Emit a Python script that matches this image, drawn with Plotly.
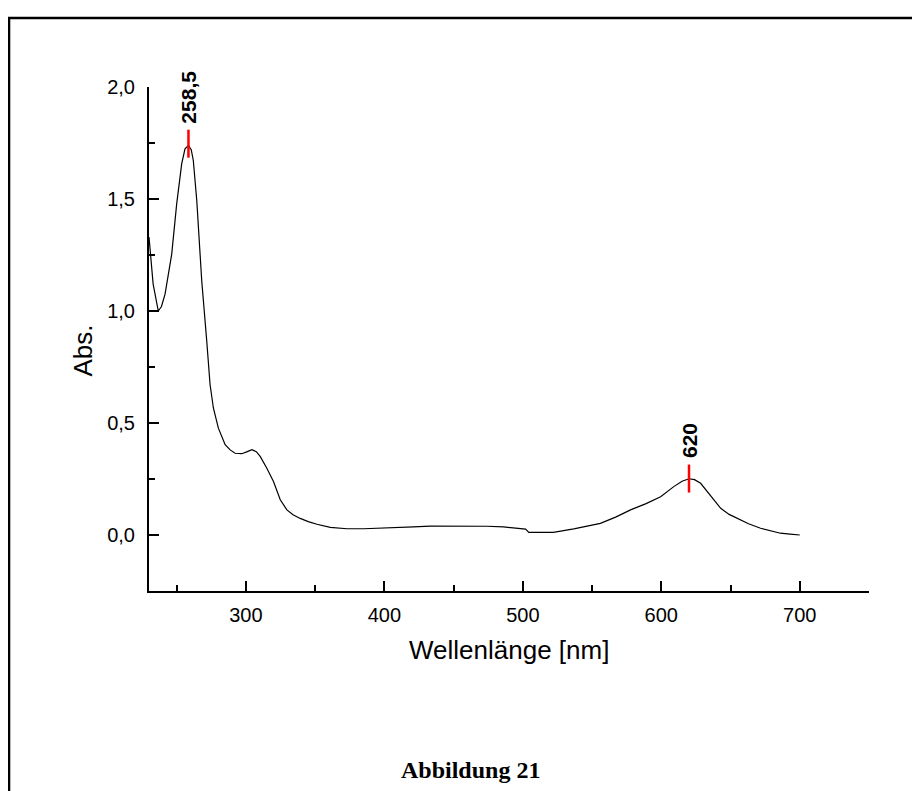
import plotly.graph_objects as go

# Spectrum
wavelength = [230, 233, 236.7, 239, 241.6, 244, 246.4, 250, 253.6, 256, 258.5, 260.5, 262, 264.5,
              268.1, 271.7, 274.1, 276.5, 280.1, 285, 288.6, 292.2, 297, 301, 304.3, 307.5, 310.3,
              315.1, 319.9, 324.8, 329.6, 334, 339.2, 345, 351.3, 360.9, 373, 385, 397, 409, 421,
              433, 445, 460, 474, 486, 498.3, 502, 504.3, 512, 522, 536.8, 546, 556, 567, 577.8,
              589, 599.5, 609, 615, 620, 624, 628.4, 635, 642.9, 649, 655, 663, 671.7, 679, 686,
              693, 700]
absorbance = [1.33, 1.12, 1.00, 1.02, 1.075, 1.16, 1.254, 1.478, 1.657, 1.724, 1.739, 1.72, 1.672,
              1.493, 1.134, 0.866, 0.672, 0.567, 0.477, 0.403, 0.380, 0.365, 0.363, 0.372, 0.381,
              0.372, 0.351, 0.298, 0.239, 0.157, 0.112, 0.090, 0.074, 0.060, 0.048, 0.034, 0.028,
              0.028, 0.030, 0.033, 0.036, 0.040, 0.040, 0.040, 0.039, 0.036, 0.030, 0.026, 0.012,
              0.011, 0.012, 0.027, 0.038, 0.052, 0.080, 0.112, 0.140, 0.171, 0.216, 0.240, 0.251,
              0.247, 0.231, 0.180, 0.119, 0.092, 0.074, 0.050, 0.030, 0.017, 0.008, 0.004, 0.0]

peak_wavelengths = [258.5, 620]
peak_values = [1.747, 0.252]
peak_labels = ["258,5", "620"]

y_tick_vals = [0.0, 0.5, 1.0, 1.5, 2.0]
y_tick_text = ["0,0", "0,5", "1,0", "1,5", "2,0"]
y_minor_vals = [0.25, 0.75, 1.25, 1.75]
x_tick_vals = [300, 400, 500, 600, 700]
x_tick_text = ["300", "400", "500", "600", "700"]
x_minor_vals = [250, 350, 450, 550, 650]

sans = "Liberation Sans, Arial"

fig = go.Figure()
fig.add_trace(go.Scatter(x=wavelength, y=absorbance, mode="lines",
                         line=dict(color="black", width=1.2), showlegend=False,
                         hoverinfo="skip"))
fig.add_trace(go.Scatter(x=peak_wavelengths, y=peak_values, mode="markers",
                         marker=dict(symbol="line-ns", size=20, color="#ff0000",
                                     line=dict(color="#ff0000", width=2.5)),
                         showlegend=False, hoverinfo="skip"))

for xw, yv, lab in zip(peak_wavelengths, peak_values, peak_labels):
    fig.add_annotation(x=xw, y=yv, text="<b>" + lab + "</b>", textangle=-90,
                       showarrow=False, xanchor="center", yanchor="bottom", yshift=18,
                       font=dict(family=sans, size=21, color="black"))

fig.add_annotation(xref="paper", yref="paper", x=-0.091, y=0.478, text="Abs.",
                   textangle=-90, showarrow=False, xanchor="center", yanchor="middle",
                   font=dict(family=sans, size=26, color="black"))
fig.add_annotation(xref="paper", yref="paper", x=0.5, y=-0.117, text="Wellenlänge [nm]",
                   showarrow=False, xanchor="center", yanchor="middle",
                   font=dict(family=sans, size=26, color="black"))
fig.add_annotation(xref="paper", yref="paper", x=0.4465, y=-0.355, text="<b>Abbildung 21</b>",
                   showarrow=False, xanchor="center", yanchor="middle",
                   font=dict(family="Liberation Serif, Times New Roman", size=24, color="black"))

# Page frame
fig.add_shape(type="rect", xref="paper", yref="paper", x0=-0.1944, x1=1.2, y0=-0.6, y1=1.137,
              line=dict(color="black", width=2.5), layer="above")

axis_font = dict(family=sans, size=20, color="black")
fig.update_xaxes(range=[230, 750], tickmode="array", tickvals=x_tick_vals, ticktext=x_tick_text,
                 ticks="inside", ticklen=10, tickwidth=1.6, tickcolor="black",
                 minor=dict(tickmode="array", tickvals=x_minor_vals,
                            ticks="inside", ticklen=6, tickwidth=1.6, tickcolor="black"),
                 showline=True, linecolor="black", linewidth=2, showgrid=False, zeroline=False,
                 tickfont=axis_font, ticklabelstandoff=5)
fig.update_yaxes(range=[-0.25, 2.0], tickmode="array", tickvals=y_tick_vals, ticktext=y_tick_text,
                 ticks="inside", ticklen=10, tickwidth=1.6, tickcolor="black",
                 minor=dict(tickmode="array", tickvals=y_minor_vals,
                            ticks="inside", ticklen=6, tickwidth=1.6, tickcolor="black"),
                 showline=True, linecolor="black", linewidth=2, showgrid=False, zeroline=False,
                 tickfont=axis_font, ticklabelstandoff=8)

fig.update_layout(width=912, height=783, margin=dict(l=141, r=51, t=79, b=200, autoexpand=False),
                  plot_bgcolor="white", paper_bgcolor="white", separators=",.")

fig.write_html("out.html")
